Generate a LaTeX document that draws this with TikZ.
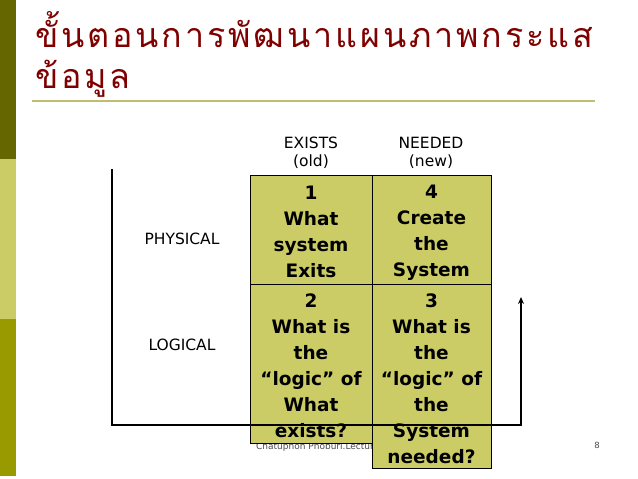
\documentclass[tikz,border=0pt]{standalone}
\usepackage{fontspec}
\usetikzlibrary{arrows.meta}
\newfontfamily\thaifont[Script=Thai,LetterSpace=8.5]{Loma}
\newfontfamily\labfont{DejaVu Sans}
\newfontfamily\boxfont{DejaVu Sans}
\definecolor{darkolive}{RGB}{102,102,0}
\definecolor{lightolive}{RGB}{204,204,102}
\definecolor{midolive}{RGB}{153,153,0}
\definecolor{titlered}{RGB}{128,0,0}
\definecolor{boxfill}{RGB}{204,204,102}
\definecolor{rulecol}{RGB}{190,190,110}
\tikzset{
  cell/.style={draw=black, line width=1pt, fill=boxfill, inner sep=0pt, align=center,
    font=\boxfont\bfseries\fontsize{18.5}{26}\selectfont},
  lab/.style={font=\labfont\fontsize{15.5}{18.5}\selectfont, align=center, inner sep=0pt},
  ttl/.style={anchor=base west, inner sep=0pt, text=titlered, font=\thaifont\fontsize{34}{40}\selectfont},
  flow/.style={line width=2pt, line cap=rect},
}
\begin{document}
\begin{tikzpicture}[x=1pt,y=-1pt]
\useasboundingbox (0,0) rectangle (638,479);
\fill[white] (0,0) rectangle (638,479);
% left side bar
\fill[darkolive] (0,0) rectangle (16,159);
\fill[lightolive] (0,159) rectangle (16,319);
\fill[midolive] (0,319) rectangle (16,476);
% title
\node[ttl] (t1) at (35,47) {ขั้นตอนการพัฒนาแผนภาพกระแส};
\node[ttl] (t2) at (35,88) {ข้อมูล};
\draw[rulecol, line width=2pt] (32,101) -- (595,101);
% column/row labels
\node[lab] (ex) at (311,153) {EXISTS\\(old)};
\node[lab] (ne) at (431,153) {NEEDED\\(new)};
\node[lab] (ph) at (182,239) {PHYSICAL};
\node[lab] (lo) at (182,345) {LOGICAL};
% footer
\node[anchor=base west, inner sep=0pt, text=black!70, font=\labfont\fontsize{9}{10}\selectfont] (foot) at (256,449) {Chatuphon Phoburi.Lecturer};
\node[anchor=base, inner sep=0pt, text=black!70, font=\labfont\fontsize{8.5}{10}\selectfont] (pg) at (597,448) {8};
% cells
\node[cell, minimum width=122, minimum height=109] (c1) at (311,229.5) {\rule{0pt}{19pt}1\\What\\system\\Exits};
\node[cell, minimum width=119, minimum height=109] (c4) at (431.5,229.5) {\rule{0pt}{19pt}4\\Create\\the\\System};
\node[cell, minimum width=122, minimum height=159] (c2) at (311,363.5) {\rule{0pt}{19pt}2\\What is\\the\\“logic” of\\What\\exists?};
\node[cell, minimum width=119, minimum height=184] (c3) at (431.5,376) {\rule{0pt}{19pt}3\\What is\\the\\“logic” of\\the\\System\\needed?};
% flow line
\coordinate (a) at (112,170);
\coordinate (b) at (112,425);
\coordinate (c) at (521,425);
\coordinate (d) at (521,297);
\draw[flow, -{Stealth[length=7pt,width=6pt]}] (a) -- (b) -- (c) -- (d);
\end{tikzpicture}
\end{document}
